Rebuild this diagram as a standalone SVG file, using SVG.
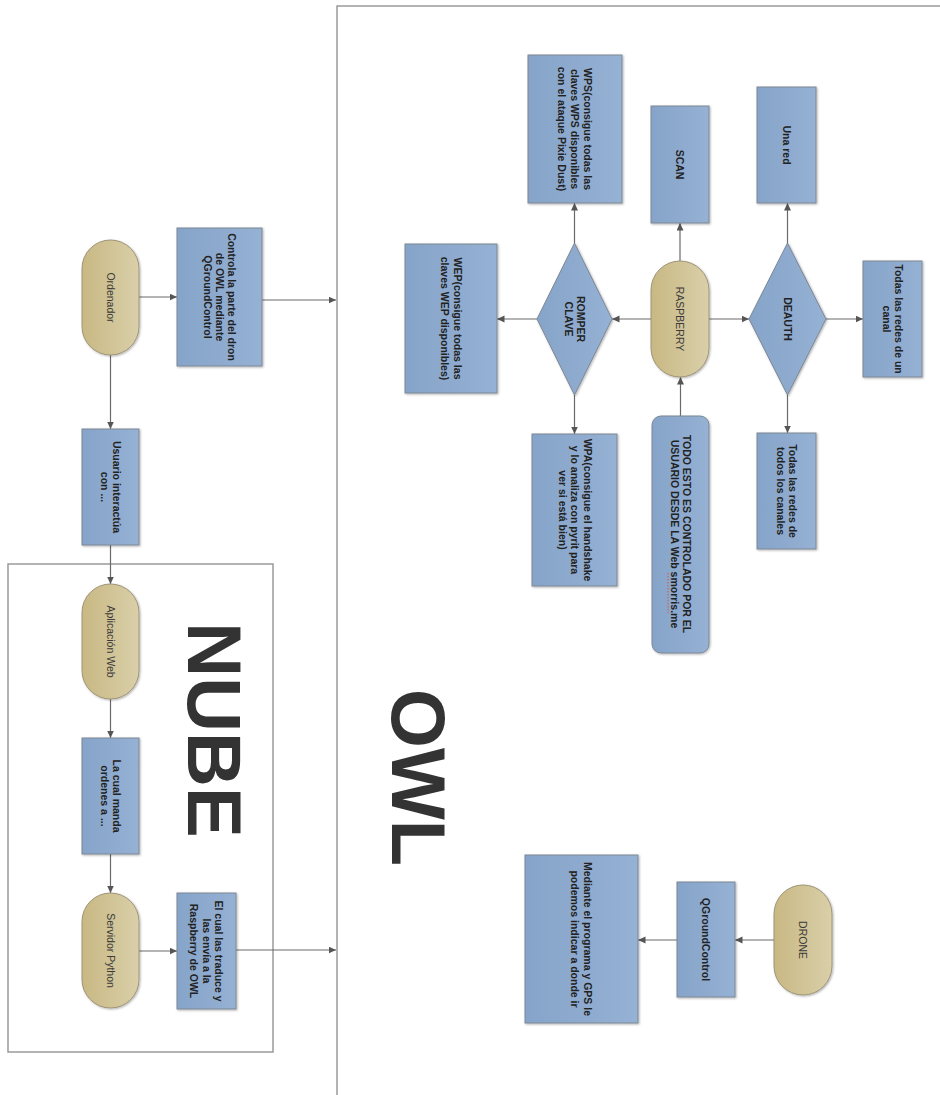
<svg xmlns="http://www.w3.org/2000/svg" width="940" height="1095" viewBox="0 0 940 1095">
  <defs>
    <linearGradient id="gBox" x1="0" y1="0" x2="1" y2="0">
      <stop offset="0" stop-color="#86a4c9"/>
      <stop offset="1" stop-color="#95b1d4"/>
    </linearGradient>
    <linearGradient id="gPill" x1="0" y1="0" x2="1" y2="0">
      <stop offset="0" stop-color="#c8b883"/>
      <stop offset="1" stop-color="#d9cfa9"/>
    </linearGradient>
    <filter id="shadow" x="-10%" y="-10%" width="130%" height="130%">
      <feDropShadow dx="1" dy="1" stdDeviation="1" flood-color="#000" flood-opacity="0.3"/>
    </filter>
    <marker id="arrow" markerUnits="userSpaceOnUse" markerWidth="8" markerHeight="8" refX="7.5" refY="3.5" orient="auto">
      <path d="M0,0 L7.5,3.5 L0,7 z" fill="#555"/>
    </marker>
    <style>
      .box { fill: url(#gBox); stroke: #7c8794; stroke-width: 1; filter: url(#shadow); }
      .pill { fill: url(#gPill); stroke: #9e9477; stroke-width: 1; filter: url(#shadow); }
      .frame { fill: none; stroke: #9a9a9a; stroke-width: 1.5; }
      .conn { fill: none; stroke: #6a6a6a; stroke-width: 1.2; marker-end: url(#arrow); }
      .t { font-family: "Liberation Sans", Arial, sans-serif; font-size: 10.5px; text-anchor: middle; fill: #222; }
      .b { font-weight: bold; }
      .r { fill: #3a3a3a; }
      .title { font-family: "Liberation Sans", Arial, sans-serif; font-size: 76px; font-weight: bold; text-anchor: middle; fill: #333; }
    </style>
  </defs>

  <!-- regions -->
  <g id="frames">
    <path class="frame" d="M940,6 H337 V1095"/>
    <rect class="frame" x="8" y="564" width="265" height="488"/>
    <text class="title" transform="translate(215.5,730) rotate(90)" dy="0.36em">NUBE</text>
    <text class="title" transform="translate(419,777.5) rotate(90)" dy="0.36em">OWL</text>
  </g>

  <!-- connectors -->
  <g id="connectors">
    <path class="conn" d="M139,297 H177"/>
    <path class="conn" d="M262,300 H336"/>
    <path class="conn" d="M110.5,355 V429"/>
    <path class="conn" d="M110.5,545 V584"/>
    <path class="conn" d="M110.5,699 V738"/>
    <path class="conn" d="M110.5,854 V893"/>
    <path class="conn" d="M139,951 H177"/>
    <path class="conn" d="M236,950 H336"/>
    <path class="conn" d="M680,261 V223"/>
    <path class="conn" d="M651,319 H612"/>
    <path class="conn" d="M709,319 H749"/>
    <path class="conn" d="M787.5,243 V203"/>
    <path class="conn" d="M826,319 H863"/>
    <path class="conn" d="M787.5,395 V433"/>
    <path class="conn" d="M574.5,243 V203"/>
    <path class="conn" d="M537,319 H497"/>
    <path class="conn" d="M574.5,395 V434"/>
    <path class="conn" d="M680.5,416 V377"/>
    <path class="conn" d="M774,940 H735"/>
    <path class="conn" d="M677,940 H638"/>
  </g>

  <!-- left column -->
  <g id="ordenador">
    <rect class="pill" x="82" y="240" width="57" height="115" rx="28.5"/>
    <text class="t r" transform="translate(110.5,297.5) rotate(90)" dy="0.35em">Ordenador</text>
  </g>
  <g id="controla">
    <rect class="box" x="177" y="228" width="85" height="138"/>
    <text class="t b" transform="translate(219.5,297) rotate(90)"><tspan x="0" dy="-8">Controla la parte del dron</tspan><tspan x="0" dy="12">de OWL mediante</tspan><tspan x="0" dy="12">QGroundControl</tspan></text>
  </g>
  <g id="usuario">
    <rect class="box" x="82" y="429" width="57" height="116"/>
    <text class="t b" transform="translate(110.5,487) rotate(90)"><tspan x="0" dy="-2.3">Usuario interactúa</tspan><tspan x="0" dy="12">con ...</tspan></text>
  </g>
  <g id="aplicacion">
    <rect class="pill" x="82" y="584" width="57" height="115" rx="28.5"/>
    <text class="t r" transform="translate(110.5,641.5) rotate(90)" dy="0.35em">Aplicación Web</text>
  </g>
  <g id="lacual">
    <rect class="box" x="82" y="738" width="57" height="116"/>
    <text class="t b" transform="translate(110.5,796) rotate(90)"><tspan x="0" dy="-2.3">La cual manda</tspan><tspan x="0" dy="12">ordenes a ...</tspan></text>
  </g>
  <g id="servidor">
    <rect class="pill" x="82" y="893" width="57" height="115" rx="28.5"/>
    <text class="t r" transform="translate(110.5,950.5) rotate(90)" dy="0.35em">Servidor Python</text>
  </g>
  <g id="elcual">
    <rect class="box" x="177" y="893" width="59" height="116"/>
    <text class="t b" transform="translate(206.5,951) rotate(90)"><tspan x="0" dy="-8.5">El cual las traduce y</tspan><tspan x="0" dy="12.5">las envía a la</tspan><tspan x="0" dy="12.5">Raspberry de OWL</tspan></text>
  </g>

  <!-- OWL side -->
  <g id="wps">
    <rect class="box" x="528" y="55" width="94" height="148"/>
    <text class="t b" transform="translate(575,129) rotate(90)"><tspan x="0" dy="-9">WPS(consigue todas las</tspan><tspan x="0" dy="13">claves WPS disponibles</tspan><tspan x="0" dy="13">con el ataque Pixie Dust)</tspan></text>
  </g>
  <g id="scan">
    <rect class="box" x="651" y="106" width="58" height="117"/>
    <text class="t b" transform="translate(680,164.5) rotate(90)" dy="0.35em">SCAN</text>
  </g>
  <g id="unared">
    <rect class="box" x="757" y="87" width="59" height="116"/>
    <text class="t b" transform="translate(786.5,145) rotate(90)" dy="0.35em">Una red</text>
  </g>
  <g id="wep">
    <rect class="box" x="405" y="244" width="92" height="149"/>
    <text class="t b" transform="translate(451,318.5) rotate(90)"><tspan x="0" dy="-2.5">WEP(consigue todas las</tspan><tspan x="0" dy="13">claves WEP disponibles)</tspan></text>
  </g>
  <g id="romper">
    <polygon class="box" points="574.5,243 612,319 574.5,395 537,319"/>
    <text class="t b" transform="translate(574.5,319) rotate(90)"><tspan x="0" dy="-2.3">ROMPER</tspan><tspan x="0" dy="12">CLAVE</tspan></text>
  </g>
  <g id="raspberry">
    <rect class="pill" x="651" y="261" width="58" height="116" rx="29"/>
    <text class="t r" transform="translate(680,319) rotate(90)" dy="0.35em">RASPBERRY</text>
  </g>
  <g id="deauth">
    <polygon class="box" points="787.5,243 826,319 787.5,395 749,319"/>
    <text class="t b" transform="translate(787.5,319) rotate(90)" dy="0.35em">DEAUTH</text>
  </g>
  <g id="canal">
    <rect class="box" x="863" y="261" width="59" height="116"/>
    <text class="t b" transform="translate(892.5,319) rotate(90)"><tspan x="0" dy="-2.3">Todas las redes de un</tspan><tspan x="0" dy="12">canal</tspan></text>
  </g>
  <g id="canales">
    <rect class="box" x="757" y="433" width="59" height="116"/>
    <text class="t b" transform="translate(786.5,491) rotate(90)"><tspan x="0" dy="-2.3">Todas las redes de</tspan><tspan x="0" dy="12">todos los canales</tspan></text>
  </g>
  <g id="wpa">
    <rect class="box" x="532" y="434" width="85" height="152"/>
    <text class="t b" transform="translate(574.5,510) rotate(90)"><tspan x="0" dy="-9">WPA(consigue el handshake</tspan><tspan x="0" dy="12.5">y lo analiza con pyrit para</tspan><tspan x="0" dy="12.5">ver si está bien)</tspan></text>
  </g>
  <g id="todo">
    <rect class="box" x="652" y="416" width="57" height="237" rx="9"/>
    <text class="t b" transform="translate(680.5,534) rotate(90)"><tspan x="0" dy="-2.3">TODO ESTO ES CONTROLADO POR EL</tspan><tspan x="0" dy="12">USUARIO DESDE LA Web smorris.me</tspan></text>
    <path d="M668,573 V613" stroke="#d9534f" stroke-width="1" stroke-dasharray="1.5,1.5" fill="none"/>
  </g>
  <g id="mediante">
    <rect class="box" x="525" y="855" width="113" height="168"/>
    <text class="t b" transform="translate(581.5,939) rotate(90)"><tspan x="0" dy="-2.5">Mediante el programa y GPS le</tspan><tspan x="0" dy="13">podemos indicar a donde ir</tspan></text>
  </g>
  <g id="qgc">
    <rect class="box" x="677" y="882" width="58" height="115"/>
    <text class="t b" transform="translate(706,939.5) rotate(90)" dy="0.35em">QGroundControl</text>
  </g>
  <g id="drone">
    <rect class="pill" x="774" y="885" width="58" height="110" rx="29"/>
    <text class="t r" transform="translate(803,940) rotate(90)" dy="0.35em">DRONE</text>
  </g>
</svg>
